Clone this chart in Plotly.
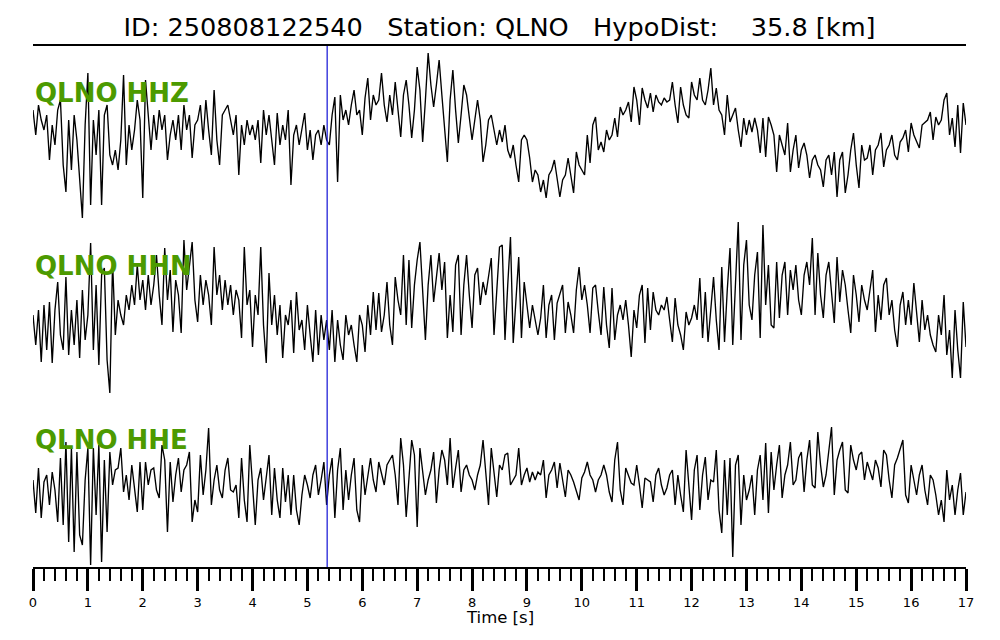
import numpy as np
import plotly.graph_objects as go

# ---------------- data (amplitudes, arbitrary units, up = positive) -------------
T_START = 0.0
T_END = 17.0
PICK_TIME = 5.36
TICK_LABELS = [str(i) for i in range(18)]
CHANNELS = ["QLNO HHZ", "QLNO HHN", "QLNO HHE"]

hhz = [
    20, -5, 25, 10, 0, 15, -30, 5, -15, 20, 30, -35, -62, 10, -40, 15, -10, -45, -88, 5,
    57, -75, 10, -25, 20, -75, 15, 25, -25, -35, -20, -40, -10, 55, -35, 5, -20, 0, 30, 10,
    -68, 50, 10, -20, 15, -10, 20, 0, 15, -30, -5, 10, -10, 15, -20, 25, 0, 15, -28, 5,
    10, 25, -10, 30, 0, -25, 40, -10, -35, 15, 20, 25, 10, -5, 15, -45, 5, -15, 10, -5,
    5, -10, 10, -33, 20, -5, 15, -10, -35, 17, -15, 5, -10, 20, -55, -5, 5, -15, 0, 17,
    -20, 0, -30, -5, 0, -15, 5, -10, -15, 15, 33, -52, 35, 10, 20, 5, 25, 40, 15, 20,
    -5, 32, 52, 10, 35, 25, 30, 57, 25, 8, 35, 15, 48, 20, -7, 35, 50, 25, -8, 20,
    63, 40, -12, 30, 77, 45, 23, 45, 70, 35, 0, -32, 30, 60, 20, -13, 15, 45, 35, 10,
    -10, 10, 30, 10, -32, -15, 10, 15, 0, -15, 0, -12, 5, -20, -28, -15, -35, -52, -10, -5,
    -10, -28, -52, -40, -45, -62, -50, -68, -45, -40, -30, -50, -67, -50, -45, -28, -45, -63, -22, -35,
    -40, -45, -5, -33, 5, 13, -20, -12, -22, 0, -10, -5, 12, -7, 23, 15, 20, 28, 8, 43,
    30, 5, 42, 30, 22, 37, 18, 35, 28, 25, 32, 28, 30, 48, 25, 7, 43, 25, 15, 12,
    48, 35, 30, 52, 30, 25, 40, 62, 25, 42, 20, 15, -5, 35, 8, 15, 22, 0, -17, 12,
    -5, 10, -2, 12, 0, -23, 12, -27, 13, 5, -5, -42, -5, -15, -25, 7, -42, -20, -5, -38,
    -20, -13, -25, -48, -30, -25, -35, -40, -57, -30, -25, -45, -22, -67, -30, -22, -63, -45, -20, -3,
    -35, -58, -15, -30, -28, -15, -45, -20, -15, -3, -37, -20, -15, -5, -25, -30, -12, -8, 0, -22,
    7, -5, -12, -18, 5, 8, 10, 18, -10, 13, 5, 10, 30, 37, -5, 12, -17, 25, -23, 27,
    5,
]

hhn = [
    -10, -40, -5, -57, 0, -45, 3, -58, -5, 23, -30, -45, 28, -50, -5, -40, 5, -53, 15, -35,
    -10, 62, -45, 20, -60, 30, 37, -55, -88, 43, -30, 5, -10, -20, 10, -5, 20, 0, 40, 5,
    25, -5, 30, 0, 20, 50, 10, -20, 57, 5, 35, -27, 25, 10, -28, 65, 15, 40, 63, 5,
    -17, 30, 0, 25, 10, -20, 58, 10, 30, -5, 25, 0, 20, -10, 15, 5, -33, 58, 0, 15,
    -42, 10, -10, 58, -20, -58, 32, -20, 10, -30, 0, -53, -10, -20, 5, -48, 13, -25, -15, -45,
    0, -30, -57, -5, -50, -10, -35, -15, -45, -5, -57, -15, -40, -55, -10, -30, -20, -40, -57, -10,
    -20, -47, 0, -30, 13, -25, 12, -27, -10, 23, -20, -40, 28, 5, -10, 50, -20, 45, -23, 20,
    45, 63, 10, -35, 20, 50, 3, 30, 52, 15, 43, -33, 10, -27, 40, 50, -30, 20, 50, 10,
    -23, 30, 37, 0, 23, 10, 30, 47, -30, 10, 58, 60, -35, 20, 68, -38, 10, 48, -33, 23,
    0, -23, 0, -15, -30, -13, 20, -33, 0, 10, -35, 2, 10, 20, -28, 3, -10, -28, 15, 38,
    5, 20, 0, -28, 17, 20, -7, -30, 18, -20, -43, 17, -35, -10, 0, -15, 5, -20, -52, -5,
    -23, 10, 20, -38, 17, -25, 13, -5, -10, 0, -5, 8, -15, -37, 7, -20, -30, -45, -7, -20,
    -13, 0, -15, 27, -33, 13, -37, -5, 28, -15, -45, 38, -37, 15, 57, -40, 20, 83, -35, 40,
    65, 0, -15, 30, 53, -33, 80, 0, 40, -20, -23, 43, -13, 30, 43, -10, 35, 15, 40, 5,
    -10, 30, 43, 20, 67, -10, 52, 10, -13, 30, 43, 15, -18, 48, 3, 35, 20, -5, -28, 30,
    10, -17, 20, 5, -5, 15, 35, -27, 10, -15, 20, 27, -10, 5, -25, -42, 0, 13, -20, 5,
    -20, 22, -10, -37, 5, -25, -10, -30, -40, -47, -10, -30, 10, -50, -25, -73, -5, -45, -73, 3,
    -42,
]

hhe = [
    0, -33, 12, -38, -2, 5, -25, 8, -10, -42, 22, -45, 38, -62, 32, -72, 28, -55, -65, 0,
    32, -85, 32, -35, 35, -82, 20, -52, 28, -5, 10, 12, 32, -12, 5, -20, 15, -10, -32, 18,
    -30, 18, -5, 10, 12, -10, -18, 35, 20, -52, 18, -22, 5, 22, -12, 10, 15, 28, -42, -20,
    -32, 25, -15, 10, 52, -25, 0, 15, -10, -18, 10, 22, -10, -12, -5, -38, 22, -20, -42, 35,
    -10, -45, 0, 12, -20, 0, 25, -35, 12, -20, -38, 12, -22, 5, -35, 5, -30, -45, -15, 5,
    -5, -18, 5, 15, -15, 0, 18, -25, 5, 22, -38, 10, 32, -30, 10, -20, 5, 22, -30, -42,
    15, -15, 5, 22, 0, -12, 18, 5, -5, 15, 20, 25, 5, -25, 42, 15, -37, 0, 40, 25,
    -47, 32, 5, -15, 0, 10, 28, -23, 10, 30, 20, -5, 42, -8, 12, 30, -12, 10, 15, 5,
    0, -10, 5, 15, 40, 10, -25, 32, 10, -17, 15, 10, 25, 27, -5, 0, 5, 32, -5, 5,
    12, -2, 8, 0, 8, 5, 20, -18, 5, 10, 18, -8, 17, 0, -17, 10, 5, -2, -10, -20,
    2, 8, 18, 5, 0, -12, 0, 5, 15, 5, -12, -22, 20, 38, -10, -25, 12, 5, -3, -5,
    15, -5, -28, 2, 0, -2, -22, 5, 12, -5, -15, -8, 5, 10, -25, 5, -15, -32, 30, -8,
    -40, 10, 25, -30, 5, 23, -20, 0, -2, 30, -30, -53, 20, -35, 22, -77, 15, 25, -45, 5,
    -20, -10, 5, -35, 10, 25, -20, 37, -33, 28, -10, 15, 35, -18, 5, 15, 38, -5, 0, 22,
    28, -12, 20, 40, -5, -8, 48, 15, -7, 5, 28, 53, -15, 20, 30, 38, -10, -13, 35, 20,
    10, 25, 28, 0, 18, 10, 0, 20, 12, -7, 30, 25, 0, -18, 15, 22, 30, 40, -15, -23,
    15, 0, -15, 5, 15, -10, -25, 5, 0, -15, -35, -20, -42, 10, -20, -5, -35, -10, 7, -35,
    -12,
]

# ---------------- layout constants -------------
TRACE_OFFSETS = [437, 262, 87]
LABEL_Y = [474, 301, 127]
Y_RANGE = [0, 521]
GREEN = "#4c9a00"
FONT = "DejaVu Sans"

fig = go.Figure()
for vals, off in zip([hhz, hhn, hhe], TRACE_OFFSETS):
    v = np.asarray(vals, dtype=float)
    t = np.linspace(T_START, T_END, len(v))
    fig.add_trace(go.Scatter(
        x=t, y=v + off, mode="lines",
        line=dict(color="black", width=1.35),
        hoverinfo="skip", showlegend=False,
    ))

for name, ly in zip(CHANNELS, LABEL_Y):
    fig.add_annotation(
        x=T_START, y=ly, xref="x", yref="y", text="<b>" + name + "</b>",
        showarrow=False, xanchor="left", yanchor="middle",
        font=dict(family=FONT, size=26, color=GREEN),
    )

fig.add_shape(type="line", x0=PICK_TIME, x1=PICK_TIME, y0=0, y1=1,
              xref="x", yref="paper", line=dict(color="#2323d8", width=1.3))

fig.add_annotation(
    x=0.5, y=-0.096, xref="paper", yref="paper", text="Time [s]",
    showarrow=False, xanchor="center", yanchor="middle",
    font=dict(family=FONT, size=16.5, color="black"),
)

nb = "\u00a0"
title = ("ID: 250808122540" + nb * 3 + "Station: QLNO" + nb * 3 +
         "HypoDist:" + nb * 4 + "35.8 [km]")

fig.update_layout(
    width=1000, height=640,
    margin=dict(l=25, r=42, t=38, b=81),
    paper_bgcolor="white", plot_bgcolor="white",
    font=dict(family=FONT, color="black"),
    title=dict(text=title, x=0.5, xref="paper", xanchor="center",
               y=1 - 19 / 640, yref="container", yanchor="middle",
               font=dict(family=FONT, size=25.6, color="black")),
    xaxis=dict(
        range=[T_START, T_END], showgrid=False, zeroline=False,
        showline=True, mirror=True, linecolor="black", linewidth=2,
        ticks="outside", ticklen=22, tickwidth=2.5, tickcolor="black",
        tickmode="array", tickvals=list(range(18)), ticktext=TICK_LABELS,
        tickfont=dict(family=FONT, size=13, color="black"),
        minor=dict(dtick=0.2, tick0=0, ticks="outside", ticklen=12,
                   tickwidth=2, tickcolor="black", showgrid=False),
    ),
    yaxis=dict(range=Y_RANGE, visible=False, fixedrange=True),
)

fig.write_html("out.html")
